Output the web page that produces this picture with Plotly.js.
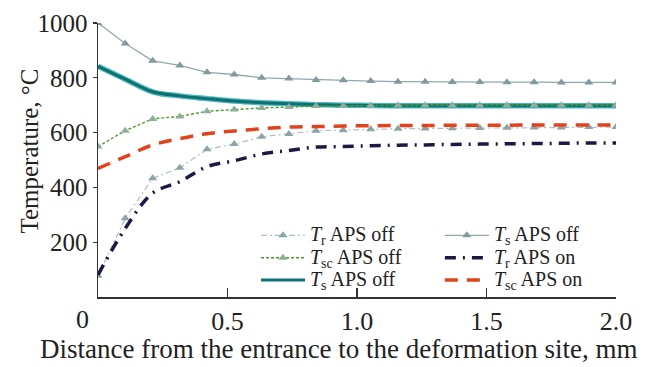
<!DOCTYPE html>
<html>
<head>
<meta charset="utf-8">
<script src="https://cdn.plot.ly/plotly-3.0.1.min.js"></script>
<style>html,body{margin:0;padding:0;background:#fff;}#chart{width:652px;height:367px;}</style>
</head>
<body>
<div id="chart"></div>
<script>
// Distance from the entrance (mm)
const distance = [0, 0.105, 0.211, 0.316, 0.421, 0.526, 0.632, 0.737, 0.842, 0.947,
                  1.053, 1.158, 1.263, 1.368, 1.474, 1.579, 1.684, 1.789, 1.895, 2.0];
// Temperatures (°C)
const trOff  = [78, 287, 433, 472, 539, 558, 585, 595, 607, 609, 612, 614, 615, 616, 617, 618, 619, 619, 620, 620];
const tscOff = [549, 607, 650, 659, 678, 684, 690, 693, 697, 698, 699, 700, 700, 700, 700, 700, 700, 700, 700, 700];
const tsOffSolid = [842, 795, 749, 734, 724, 715, 709, 705, 702, 700, 699, 698, 698, 698, 698, 698, 698, 698, 698, 698];
const tsOffTri = [1000, 925, 862, 845, 820, 812, 800, 797, 792, 791, 788, 786, 786, 785, 785, 784, 784, 783, 783, 783];
const trOn  = [81, 250, 379, 421, 476, 497, 522, 535, 547, 549, 552, 554, 555, 557, 558, 559, 560, 561, 562, 562];
const tscOn = [469, 512, 555, 578, 596, 606, 614, 620, 622, 624, 625, 626, 626, 627, 627, 627, 628, 628, 628, 628];

const xTickVals = [0.5, 1.0, 1.5, 2.0];
const xTickText = ['0.5', '1.0', '1.5', '2.0'];
const yTickVals = [200, 400, 600, 800, 1000];

const FONT = 'Liberation Serif, Times New Roman, serif';
const lg = s => '<span style="font-size:20px">' + s + '</span>';

const traces = [
  {x: distance, y: tsOffSolid, mode: 'lines', line: {color: '#4ab8c2', width: 5.5, shape: 'spline'},
   showlegend: false, hoverinfo: 'skip'},
  {x: distance, y: tsOffTri, mode: 'lines+markers', name: lg('<i>T</i><sub>s</sub> APS off'), legend: 'legend2', legendrank: 1,
   line: {color: '#93a7ab', width: 1.3}, marker: {symbol: 'triangle-up', size: 8, color: '#8299a0'}},
  {x: distance, y: trOff, mode: 'lines+markers', name: lg('<i>T</i><sub>r</sub> APS off'), legend: 'legend', legendrank: 1,
   line: {color: '#a9c0c8', width: 1.2, dash: '6px,3px,2px,3px'}, marker: {symbol: 'triangle-up', size: 8, color: '#8da3a6'}},
  {x: distance, y: tscOn, mode: 'lines', name: lg('<i>T</i><sub>sc</sub> APS on'), legend: 'legend2', legendrank: 3,
   line: {color: '#e2421c', width: 3.5, dash: '13px,9px', shape: 'spline'}},
  {x: distance, y: trOn, mode: 'lines', name: lg('<i>T</i><sub>r</sub> APS on'), legend: 'legend2', legendrank: 2,
   line: {color: '#1b1a45', width: 3.5, dash: '11px,7px,2px,7px', shape: 'spline'}},
  {x: distance, y: tsOffSolid, mode: 'lines', name: lg('<i>T</i><sub>s</sub> APS off'), legend: 'legend', legendrank: 3,
   line: {color: '#10706f', width: 3, shape: 'spline'}},
  {x: distance, y: tscOff, mode: 'lines+markers', name: lg('<i>T</i><sub>sc</sub> APS off'), legend: 'legend', legendrank: 2,
   line: {color: '#4c9a2a', width: 1.4, dash: '3px,2px'}, marker: {symbol: 'triangle-up', size: 8, color: '#8fae9c'}}
];

const legendCommon = {
  font: {family: FONT, size: 14.9, color: '#222'},
  bgcolor: 'rgba(0,0,0,0)', borderwidth: 0,
  xanchor: 'left', yanchor: 'top', itemwidth: 44, tracegroupgap: 0,
  traceorder: 'normal'
};

const layout = {
  width: 652, height: 367,
  margin: {l: 98, r: 36, t: 23, b: 70},
  paper_bgcolor: '#fff', plot_bgcolor: '#fff',
  font: {family: FONT, size: 25, color: '#222'},
  showlegend: true,
  legend: Object.assign({}, legendCommon, {x: 0.305, y: 0.284}),
  legend2: Object.assign({}, legendCommon, {x: 0.66, y: 0.284}),
  xaxis: {
    range: [0, 2.0], tickvals: xTickVals, ticktext: xTickText,
    ticks: 'inside', ticklen: 9, tickwidth: 1.3, tickcolor: '#333',
    showline: true, linecolor: '#333', linewidth: 1.5, showgrid: false, zeroline: false,
    tickfont: {family: FONT, size: 26, color: '#222'}
  },
  yaxis: {
    range: [0, 1000], tickvals: yTickVals,
    ticks: 'outside', ticklen: 4, tickwidth: 1.3, tickcolor: '#333',
    showline: true, linecolor: '#333', linewidth: 1.5, showgrid: false, zeroline: false,
    tickfont: {family: FONT, size: 25, color: '#222'}
  },
  annotations: [
    {text: '0', xref: 'paper', yref: 'paper', x: -0.03, y: 0, xanchor: 'center', yanchor: 'top',
     yshift: -6, showarrow: false, font: {family: FONT, size: 26, color: '#222'}},
    {text: 'Temperature, °C', xref: 'paper', yref: 'paper', x: -0.133, y: 0.531, xanchor: 'center', yanchor: 'middle',
     textangle: -90, showarrow: false, font: {family: FONT, size: 25, color: '#222'}},
    {text: 'Distance from the entrance to the deformation site, mm', xref: 'paper', yref: 'paper',
     x: 0.465, y: -0.19, xanchor: 'center', yanchor: 'middle',
     showarrow: false, font: {family: FONT, size: 27, color: '#222'}}
  ]
};

Plotly.newPlot('chart', traces, layout, {displayModeBar: false, staticPlot: true});
</script>
</body>
</html>
